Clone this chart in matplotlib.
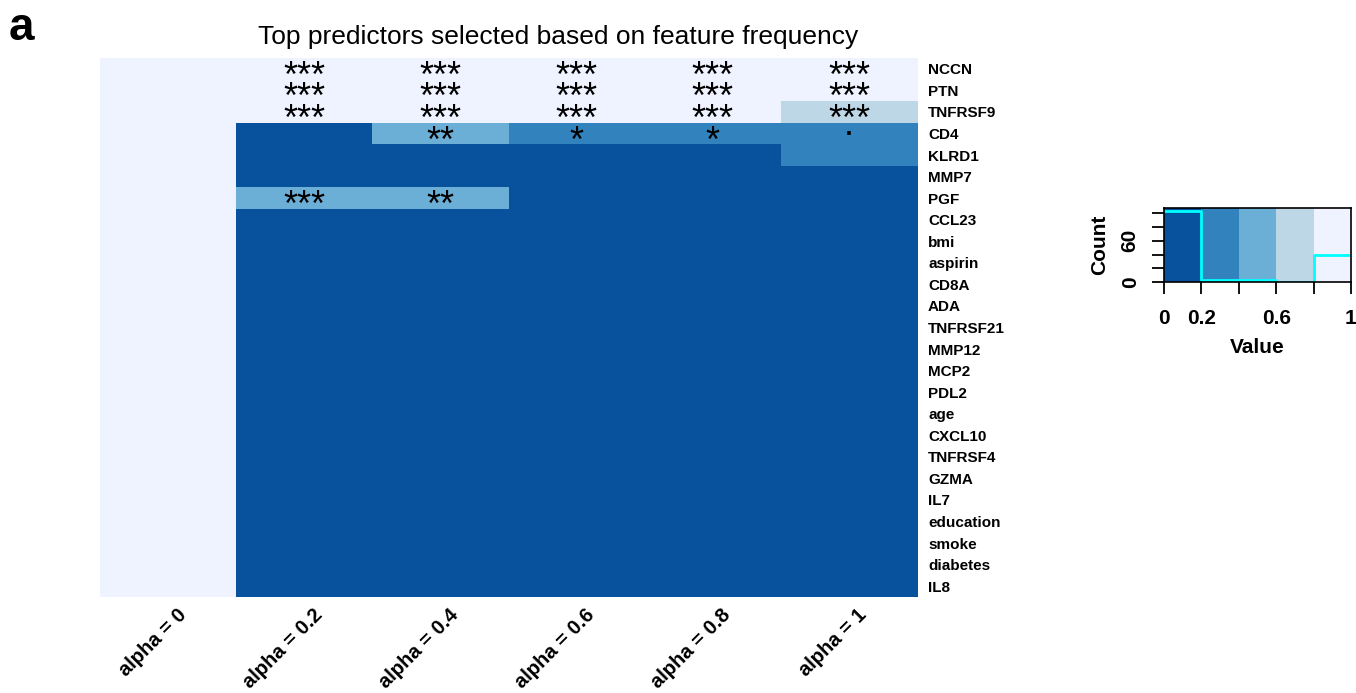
import numpy as np
import matplotlib
matplotlib.use('Agg')
import matplotlib.pyplot as plt
from matplotlib.colors import ListedColormap, BoundaryNorm

plt.rcParams['font.family'] = ['Liberation Sans', 'DejaVu Sans']

features = ['NCCN', 'PTN', 'TNFRSF9', 'CD4', 'KLRD1', 'MMP7', 'PGF', 'CCL23', 'bmi',
            'aspirin', 'CD8A', 'ADA', 'TNFRSF21', 'MMP12', 'MCP2', 'PDL2', 'age',
            'CXCL10', 'TNFRSF4', 'GZMA', 'IL7', 'education', 'smoke', 'diabetes', 'IL8']
alphas = ['alpha = 0', 'alpha = 0.2', 'alpha = 0.4', 'alpha = 0.6', 'alpha = 0.8', 'alpha = 1']

# feature frequency per alpha (estimated from colour bins)
freq_a0 = [1.0, 1.0, 1.0, 1.0, 1.0, 1.0, 1.0, 1.0, 1.0, 1.0, 1.0, 1.0, 1.0,
           1.0, 1.0, 1.0, 1.0, 1.0, 1.0, 1.0, 1.0, 1.0, 1.0, 1.0, 1.0]
freq_a02 = [1.0, 1.0, 1.0, 0.1, 0.0, 0.0, 0.5, 0.0, 0.0, 0.0, 0.0, 0.0, 0.0,
            0.0, 0.0, 0.0, 0.0, 0.0, 0.0, 0.0, 0.0, 0.0, 0.0, 0.0, 0.0]
freq_a04 = [1.0, 1.0, 1.0, 0.5, 0.1, 0.0, 0.45, 0.0, 0.0, 0.0, 0.0, 0.0, 0.0,
            0.0, 0.0, 0.0, 0.0, 0.0, 0.0, 0.0, 0.0, 0.0, 0.0, 0.0, 0.0]
freq_a06 = [1.0, 1.0, 1.0, 0.3, 0.1, 0.05, 0.1, 0.0, 0.0, 0.0, 0.0, 0.0, 0.0,
            0.0, 0.0, 0.0, 0.0, 0.0, 0.0, 0.0, 0.0, 0.0, 0.0, 0.0, 0.0]
freq_a08 = [1.0, 1.0, 1.0, 0.3, 0.15, 0.05, 0.1, 0.0, 0.0, 0.0, 0.0, 0.0, 0.0,
            0.0, 0.0, 0.0, 0.0, 0.0, 0.0, 0.0, 0.0, 0.0, 0.0, 0.0, 0.0]
freq_a1 = [1.0, 1.0, 0.7, 0.3, 0.25, 0.1, 0.1, 0.0, 0.0, 0.0, 0.0, 0.0, 0.0,
           0.0, 0.0, 0.0, 0.0, 0.0, 0.0, 0.0, 0.0, 0.0, 0.0, 0.0, 0.0]

# significance marks, only the top rows carry any
stars_a0 = [''] * 7
stars_a02 = ['***', '***', '***', '', '', '', '***']
stars_a04 = ['***', '***', '***', '**', '', '', '**']
stars_a06 = ['***', '***', '***', '*', '', '', '']
stars_a08 = ['***', '***', '***', '*', '', '', '']
stars_a1 = ['***', '***', '***', '.', '', '', '']

key_bounds = [0, 0.2, 0.4, 0.6, 0.8, 1.0]
colors = ['#08519c', '#3182bd', '#6baed6', '#bdd7e7', '#eff3ff']

mat = np.array([freq_a0, freq_a02, freq_a04, freq_a06, freq_a08, freq_a1]).T
stars = [stars_a0, stars_a02, stars_a04, stars_a06, stars_a08, stars_a1]

cmap = ListedColormap(colors)
norm = BoundaryNorm(key_bounds, cmap.N)

W, H = 1356, 693
fig = plt.figure(figsize=(W / 100, H / 100), dpi=100)

# heatmap
ax = fig.add_axes([100 / W, 1 - 597 / H, 817 / W, 539 / H])
ax.imshow(mat, cmap=cmap, norm=norm, aspect='auto', interpolation='nearest')
for s in ax.spines.values():
    s.set_visible(False)
ax.set_xticks([])
ax.yaxis.tick_right()
ax.set_yticks(range(len(features)))
ax.set_yticklabels(features, fontsize=11, fontweight='bold')
ax.tick_params(axis='y', length=0, pad=8)

fs_star = 26
for j, col in enumerate(stars):
    for i, s in enumerate(col):
        if not s:
            continue
        off = 0.05 if s == '.' else 0.5
        ax.annotate(s, (j, i), xytext=(0, -off * fs_star), textcoords='offset points',
                    ha='center', va='baseline', fontsize=fs_star)

for j, lab in enumerate(alphas):
    ax.annotate(lab, (j, len(features) - 0.5), xytext=(6, -6), textcoords='offset points',
                ha='right', va='top', rotation=45, rotation_mode='anchor',
                fontsize=14.5, fontweight='bold', annotation_clip=False)

fig.text(558 / W, 1 - 37 / H, 'Top predictors selected based on feature frequency',
         ha='center', va='center', fontsize=19)
fig.text(9 / W, 1 - 40 / H, 'a', ha='left', va='baseline', fontsize=33, fontweight='bold')

# colour key with histogram
counts, edges = np.histogram(mat.ravel(), bins=key_bounds)
kax = fig.add_axes([1164 / W, 1 - 282.3 / H, 187 / W, 74.6 / H])
centers = [(key_bounds[k] + key_bounds[k + 1]) / 2 for k in range(len(colors))]
kax.pcolormesh(key_bounds, [0, 108], [centers], cmap=cmap, norm=norm)
kax.step(edges, np.append(counts, counts[-1]), where='post', color='cyan', lw=2)
kax.set_xlim(0, 1)
kax.set_ylim(0, 108)
kax.set_xticks(key_bounds)
kax.set_xticklabels(['0', '0.2', '', '0.6', '', '1'], fontsize=15, fontweight='bold')
kax.set_yticks([0, 20, 40, 60, 80, 100])
kax.set_yticklabels(['0', '', '', '60', '', ''], fontsize=15, fontweight='bold',
                    rotation=90, va='center')
kax.tick_params(length=8.5, width=1.3)
kax.tick_params(axis='x', pad=11)
kax.tick_params(axis='y', pad=9)
kax.set_xlabel('Value', fontsize=15, fontweight='bold', labelpad=7)
kax.set_ylabel('Count', fontsize=15, fontweight='bold', labelpad=8)
for s in kax.spines.values():
    s.set_linewidth(1.2)

fig.savefig('out.png', dpi=100)
